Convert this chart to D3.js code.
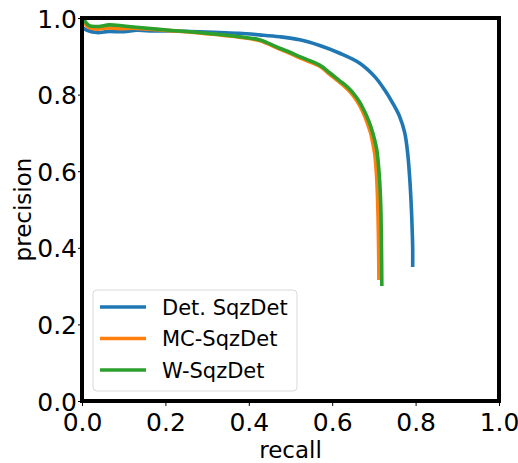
<!DOCTYPE html>
<html>
<head>
<meta charset="utf-8">
<script src="https://cdn.jsdelivr.net/npm/d3@7"></script>
<style>
  html, body { margin: 0; padding: 0; background: #fff; }
  svg { display: block; font-family: "DejaVu Sans", sans-serif; }
</style>
</head>
<body>
<svg id="chart" width="518" height="463"></svg>
<script>
// Precision-recall curves for three detectors
const seriesNames = ["Det. SqzDet", "MC-SqzDet", "W-SqzDet"];
const seriesColors = ["#1f77b4", "#ff7f0e", "#2ca02c"];

const detRecall = [0.0, 0.012, 0.036, 0.065, 0.10, 0.132, 0.17, 0.21, 0.281, 0.33, 0.377, 0.425, 0.474, 0.522, 0.57, 0.618, 0.666, 0.702, 0.726, 0.745, 0.762, 0.774, 0.781, 0.786, 0.790, 0.792, 0.793, 0.793];
const detPrecision = [0.975, 0.968, 0.962, 0.965, 0.964, 0.968, 0.966, 0.966, 0.964, 0.962, 0.960, 0.956, 0.951, 0.943, 0.928, 0.908, 0.882, 0.847, 0.812, 0.778, 0.742, 0.700, 0.647, 0.58, 0.50, 0.44, 0.40, 0.35];

const mcRecall = [0.005, 0.012, 0.036, 0.06, 0.09, 0.13, 0.21, 0.28, 0.377, 0.425, 0.474, 0.50, 0.522, 0.57, 0.594, 0.618, 0.630, 0.642, 0.654, 0.666, 0.677, 0.686, 0.692, 0.697, 0.702, 0.706, 0.709, 0.711, 0.712];
const mcPrecision = [0.995, 0.978, 0.971, 0.974, 0.972, 0.973, 0.967, 0.961, 0.950, 0.941, 0.919, 0.907, 0.896, 0.874, 0.853, 0.832, 0.821, 0.808, 0.792, 0.771, 0.746, 0.720, 0.700, 0.675, 0.645, 0.595, 0.52, 0.42, 0.316];

const wRecall = [0.005, 0.017, 0.04, 0.065, 0.10, 0.13, 0.21, 0.28, 0.377, 0.425, 0.474, 0.50, 0.522, 0.57, 0.594, 0.618, 0.630, 0.642, 0.654, 0.666, 0.678, 0.688, 0.695, 0.701, 0.707, 0.712, 0.716, 0.718, 0.719];
const wPrecision = [0.995, 0.980, 0.978, 0.982, 0.979, 0.976, 0.968, 0.962, 0.951, 0.943, 0.921, 0.910, 0.899, 0.877, 0.857, 0.836, 0.826, 0.814, 0.799, 0.780, 0.755, 0.730, 0.708, 0.685, 0.655, 0.603, 0.525, 0.42, 0.30];

const xTicks = [0.0, 0.2, 0.4, 0.6, 0.8, 1.0];
const yTicks = [0.0, 0.2, 0.4, 0.6, 0.8, 1.0];

const series = [
  { name: seriesNames[0], color: seriesColors[0], x: detRecall, y: detPrecision },
  { name: seriesNames[1], color: seriesColors[1], x: mcRecall, y: mcPrecision },
  { name: seriesNames[2], color: seriesColors[2], x: wRecall, y: wPrecision }
];

const svg = d3.select("#chart");
const plotL = 82, plotR = 499, plotT = 18, plotB = 401;

const x = d3.scaleLinear().domain([0, 1]).range([plotL, plotR]);
const y = d3.scaleLinear().domain([0, 1]).range([plotB, plotT]);

// curves
const line = d3.line()
  .curve(d3.curveCatmullRom.alpha(0.5))
  .x(d => x(d[0]))
  .y(d => y(d[1]));

series.forEach(s => {
  const pts = s.x.map((v, i) => [v, s.y[i]]);
  svg.append("path")
    .datum(pts)
    .attr("fill", "none")
    .attr("stroke", s.color)
    .attr("stroke-width", 3.6)
    .attr("stroke-linejoin", "round")
    .attr("d", line);
});

// axes
const fmt = d3.format(".1f");
const xAxis = svg.append("g")
  .attr("transform", `translate(0,${plotB})`)
  .call(d3.axisBottom(x).tickValues(xTicks).tickFormat(fmt).tickSize(5).tickPadding(7));
const yAxis = svg.append("g")
  .attr("transform", `translate(${plotL},0)`)
  .call(d3.axisLeft(y).tickValues(yTicks).tickFormat(fmt).tickSize(4).tickPadding(1));

[xAxis, yAxis].forEach(g => {
  g.select(".domain").remove();
  g.selectAll("line").attr("stroke", "#000").attr("stroke-width", 1);
  g.selectAll("text").attr("fill", "#000").style("font-size", "25px").style("font-family", "DejaVu Sans");
});
yAxis.selectAll("text").attr("dy", "0.36em");

// frame
svg.append("rect")
  .attr("x", plotL).attr("y", plotT)
  .attr("width", plotR - plotL).attr("height", plotB - plotT)
  .attr("fill", "none")
  .attr("stroke", "#000")
  .attr("stroke-width", 4);

// axis titles
svg.append("text")
  .attr("x", (plotL + plotR) / 2).attr("y", 458)
  .attr("text-anchor", "middle")
  .style("font-size", "23px")
  .text("recall");
svg.append("text")
  .attr("transform", `translate(31,${(plotT + plotB) / 2}) rotate(-90)`)
  .attr("text-anchor", "middle")
  .style("font-size", "23px")
  .text("precision");

// legend
const lg = svg.append("g");
lg.append("rect")
  .attr("x", 93).attr("y", 290)
  .attr("width", 204).attr("height", 101)
  .attr("rx", 4)
  .attr("fill", "#fff").attr("fill-opacity", 0.8)
  .attr("stroke", "#d9d9d9").attr("stroke-width", 1);
series.forEach((s, i) => {
  const cy = 307 + i * 31.5;
  lg.append("line")
    .attr("x1", 100).attr("x2", 146)
    .attr("y1", cy).attr("y2", cy)
    .attr("stroke", s.color).attr("stroke-width", 3.6);
  lg.append("text")
    .attr("x", 162).attr("y", cy)
    .attr("dy", "0.36em")
    .style("font-size", "21px")
    .text(s.name);
});
</script>
</body>
</html>
